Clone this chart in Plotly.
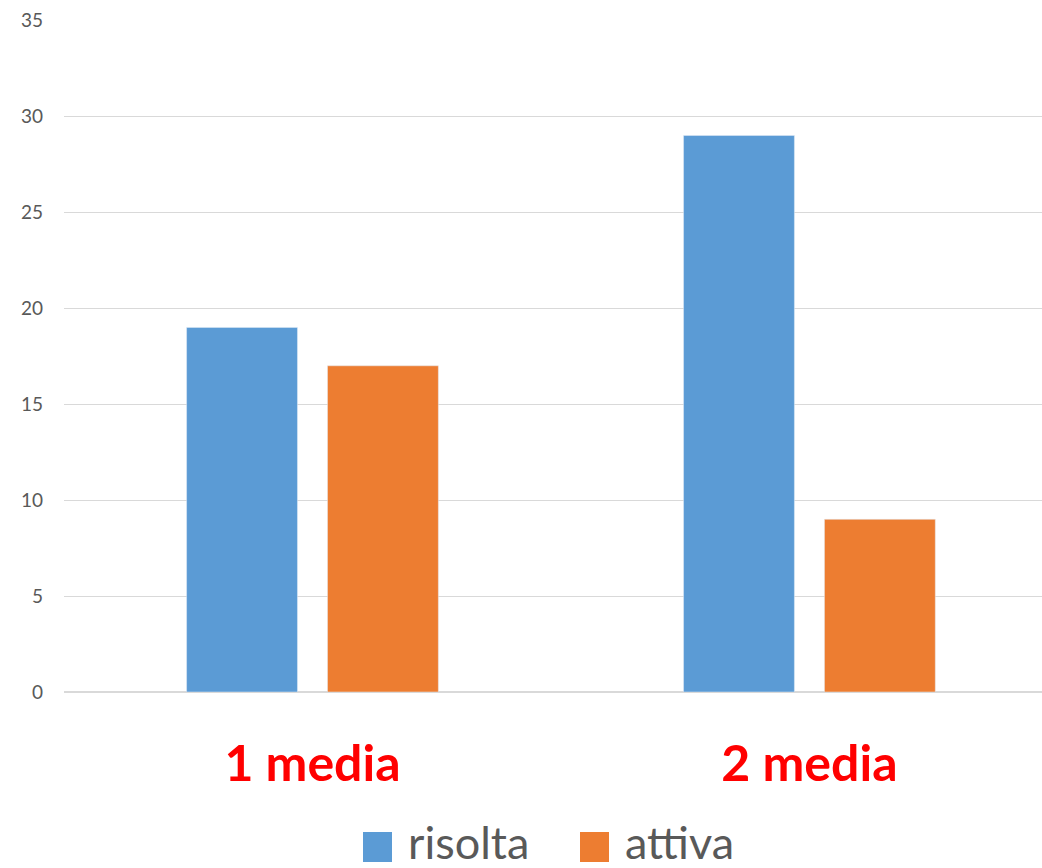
import plotly.graph_objects as go

categories = ["1 media", "2 media"]
risolta = [19, 29]
attiva = [17, 9]
series_names = ["risolta", "attiva"]
colors = ["#5B9BD5", "#ED7D31"]

W, H = 1042, 868
L, T, R = 64, 20, 0
B = H - 692


def px_x(p):
    return (p - L) / (W - L - R)


def px_y(p):
    return 1 - (p - T) / (H - T - B)


fig = go.Figure()
fig.add_trace(go.Bar(x=categories, y=risolta, name=series_names[0],
                     marker_color=colors[0], showlegend=False))
fig.add_trace(go.Bar(x=categories, y=attiva, name=series_names[1],
                     marker_color=colors[1], showlegend=False))

# legend drawn by hand so the swatches are as big as in the original
legend_items = [(363, 406), (580, 623)]
for (sx, tx), name, col in zip(legend_items, series_names, colors):
    fig.add_shape(type="rect", xref="paper", yref="paper",
                  x0=px_x(sx), x1=px_x(sx + 29), y0=px_y(832), y1=px_y(862),
                  fillcolor=col, line_width=0)
    fig.add_annotation(x=px_x(tx), y=px_y(842), xref="paper", yref="paper",
                       text=name, showarrow=False, xanchor="left", yanchor="middle",
                       font=dict(family="Lato", size=45, color="#595959"))

fig.update_layout(
    width=W, height=H,
    margin=dict(l=L, r=R, t=T, b=B),
    plot_bgcolor="white", paper_bgcolor="white",
    barmode="group", bargap=0.433, bargroupgap=0.213,
    font=dict(family="Lato"),
)
fig.update_xaxes(range=[-0.5, 1.468], showgrid=False, showline=False,
                 ticks="", ticklabelstandoff=38,
                 tickfont=dict(family="Lato", size=50, color="red", weight="bold"))
fig.update_yaxes(range=[0, 35.02], dtick=5, showgrid=True, gridcolor="#D9D9D9",
                 gridwidth=1, zeroline=True, zerolinecolor="#D9D9D9", showline=False,
                 ticks="", ticklabelstandoff=20,
                 tickfont=dict(family="Lato", size=19, color="#595959"))

# drop the page's default body margin so the figure fills the window
fig.write_html("out.html", config={"displayModeBar": False},
               post_script="document.body.style.margin='0';document.body.style.overflow='hidden';")
